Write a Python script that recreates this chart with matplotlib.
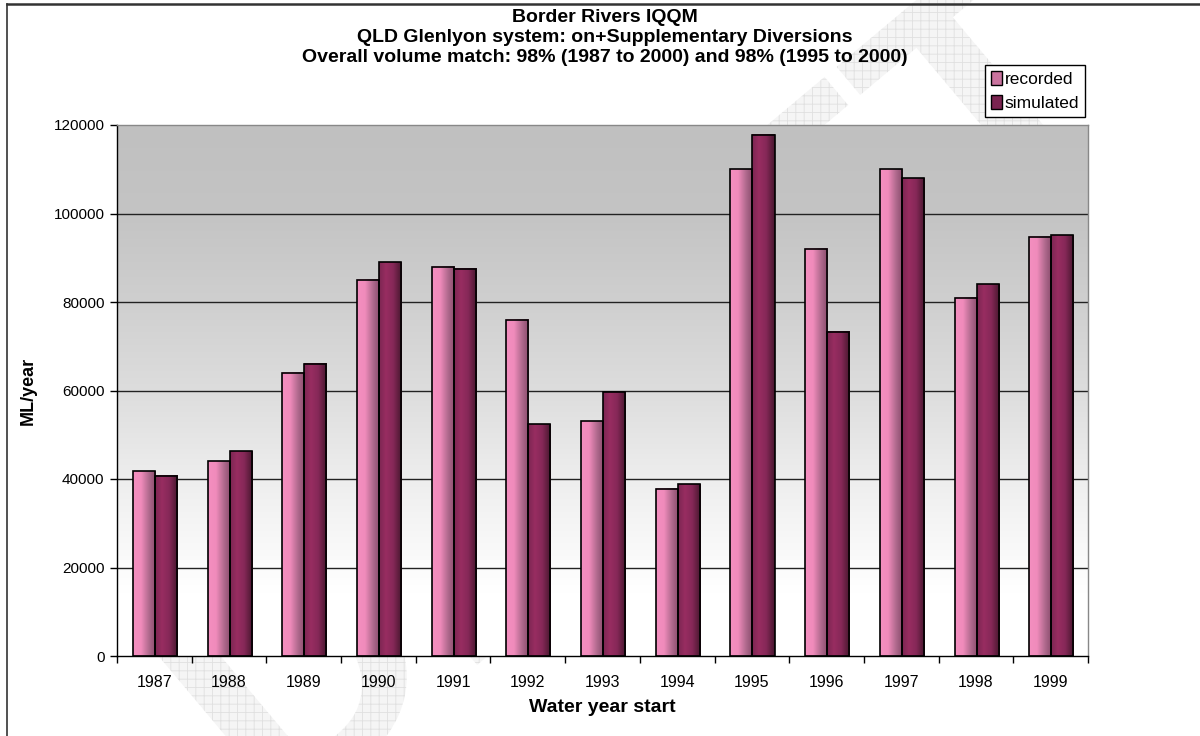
import numpy as np
import matplotlib
matplotlib.use("Agg")
import matplotlib.pyplot as plt
from matplotlib.colors import LinearSegmentedColormap
from matplotlib.patches import Patch, PathPatch
from matplotlib.textpath import TextPath
from matplotlib.font_manager import FontProperties
from matplotlib.transforms import Affine2D
from matplotlib.lines import Line2D

plt.rcParams['font.family'] = ['Liberation Sans', 'DejaVu Sans']
plt.rcParams['hatch.linewidth'] = 0.6

# Datos anuales (ML/year)
years = ["1987", "1988", "1989", "1990", "1991", "1992", "1993",
         "1994", "1995", "1996", "1997", "1998", "1999"]
recorded = [41800, 44000, 64000, 85000, 88000, 76000, 53000,
            37800, 110000, 92000, 110000, 81000, 94800]
simulated = [40700, 46300, 66100, 89000, 87500, 52400, 59600,
             38800, 117800, 73300, 108000, 84000, 95100]

titulo = ["Border Rivers IQQM",
          "QLD Glenlyon system: on+Supplementary Diversions",
          "Overall volume match: 98% (1987 to 2000) and 98% (1995 to 2000)"]

W, H = 1200, 736
fig = plt.figure(figsize=(W / 100, H / 100), dpi=100)
fig.patch.set_facecolor("white")

# Marca de agua "DRAFT" con trama
fp = FontProperties(family="Liberation Sans", weight="bold")
tp = TextPath((0, 0), "DRAFT", size=330, prop=fp)
bb = tp.get_extents()
tr = (Affine2D().translate(-(bb.x0 + bb.x1) / 2, -(bb.y0 + bb.y1) / 2)
      .rotate_deg(40).translate(640, H - 380))
marca = PathPatch(tr.transform_path(tp), facecolor="#f5f5f5", edgecolor="#e0e0e0",
                  hatch="++", lw=0, transform=None, zorder=-5)
fig.patches.append(marca)

ax = fig.add_axes([117 / W, (H - 656) / H, (1088 - 117) / W, (656 - 125) / H])
ax.set_zorder(2)

x = np.arange(len(years))
ancho = 0.295

# Fondo degradado del area de trazado
niveles = [(0.0, 192), (0.17, 196), (0.33, 207), (0.5, 221), (0.67, 238),
           (0.8, 249), (0.88, 255), (1.0, 255)]
t = np.linspace(0, 1, 400)
g = np.interp(t, [a for a, _ in niveles], [b for _, b in niveles]) / 255
fondo = np.stack([g, g, g], axis=-1)[:, None, :].repeat(2, axis=1)
ax.imshow(fondo, extent=[-0.5, len(years) - 0.5, 0, 120000], aspect="auto",
          origin="upper", zorder=0)

cmap_rec = LinearSegmentedColormap.from_list(
    "rec", [(0, "#f48fc0"), (0.35, "#f08bbb"), (0.7, "#b06a8e"), (1, "#8a4c6c")])
cmap_sim = LinearSegmentedColormap.from_list(
    "sim", [(0, "#7c2652"), (0.3, "#982d61"), (0.62, "#862858"), (1, "#47172e")])
grad = np.linspace(0, 1, 64)[None, :]

def barras(pos, valores, cmap):
    for xi, v in zip(pos, valores):
        ax.imshow(grad, extent=[xi - ancho / 2, xi + ancho / 2, 0, v], aspect="auto",
                  cmap=cmap, zorder=3)
    ax.bar(pos, valores, ancho, facecolor="none", edgecolor="black", lw=1.2, zorder=4)

barras(x - ancho / 2 + 0.008, recorded, cmap_rec)
barras(x + ancho / 2 + 0.008, simulated, cmap_sim)

ax.set_xlim(-0.5, len(years) - 0.5)
ax.set_ylim(0, 120000)

# Lineas de division
for yv in range(20000, 120000, 20000):
    ax.axhline(yv, color="#222222", lw=1.0, zorder=1)

ax.spines["top"].set_color("#888888")
ax.spines["right"].set_color("#888888")
ax.spines["left"].set_color("black")
ax.spines["bottom"].set_color("black")
for s in ax.spines.values():
    s.set_linewidth(1.0)
    s.set_zorder(5)

ax.set_yticks(range(0, 120001, 20000))
ax.set_yticklabels([str(v) for v in range(0, 120001, 20000)], fontsize=11)
ax.tick_params(axis="y", direction="out", length=5, width=1, pad=4)
ax.set_xticks(x)
ax.set_xticklabels(years, fontsize=11.5)
ax.set_xticks(np.arange(-0.5, len(years)), minor=True)
ax.tick_params(axis="x", which="major", length=0, pad=14)
ax.tick_params(axis="x", which="minor", direction="out", length=5, width=1)

ax.set_ylabel("ML/year", fontsize=13, fontweight="bold", labelpad=12)
ax.set_xlabel("Water year start", fontsize=14, fontweight="bold", labelpad=6)

for i, linea in enumerate(titulo):
    fig.text(605 / W, 1 - (18 + 20 * i) / H, linea, ha="center", va="center",
             fontsize=14, fontweight="bold")

handles = [Patch(facecolor="#c9739e", edgecolor="black", lw=1),
           Patch(facecolor="#7a2450", edgecolor="black", lw=1)]
leg = fig.legend(handles, ["recorded", "simulated"], loc="upper right",
                 bbox_to_anchor=(1085 / W, 1 - 65 / H), fontsize=12.5,
                 frameon=True, fancybox=False, framealpha=1, edgecolor="black",
                 handlelength=0.6, handleheight=0.9, handletextpad=0.15,
                 labelspacing=0.45, borderpad=0.35, borderaxespad=0)
leg.get_frame().set_linewidth(1.0)

# Marco exterior
fig.add_artist(Line2D([7 / W, 1], [1 - 4 / H, 1 - 4 / H], color="#333333", lw=1.8))
fig.add_artist(Line2D([7 / W, 7 / W], [0, 1 - 4 / H], color="#333333", lw=1.2))

fig.savefig("out.png", dpi=100)
